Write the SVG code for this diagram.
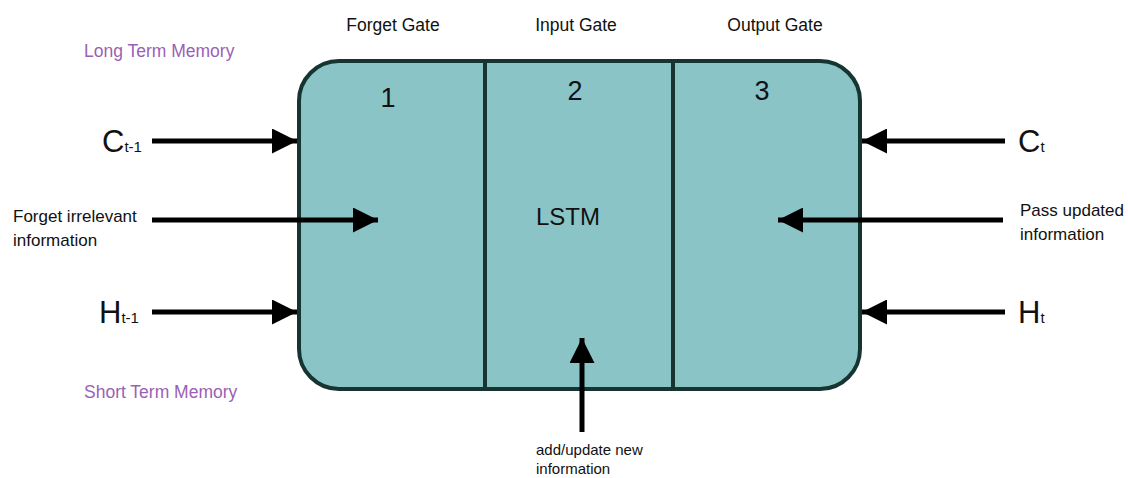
<svg xmlns="http://www.w3.org/2000/svg" width="1128" height="478" viewBox="0 0 1128 478">
<defs>
<style>
text{font-family:"Liberation Sans",Arial,sans-serif;fill:#111}
.gate{font-size:17.5px;text-anchor:middle}
.num{font-size:27px;text-anchor:middle}
.mem{font-size:17.5px;fill:#9b5fb5}
.lbl{font-size:17px}
.big{font-size:31px}
.sub{font-size:15px}
.small{font-size:15px}
.arr{stroke:#000;stroke-width:5;fill:none}
.div{stroke:#163530;stroke-width:4}
</style>
<marker id="ah" viewBox="0 0 10 10" refX="10" refY="5" markerWidth="5" markerHeight="5" markerUnits="strokeWidth" orient="auto">
<path d="M0,0 L10,5 L0,10 z" fill="#000"/>
</marker>
</defs>
<rect width="1128" height="478" fill="#fff"/>
<g id="lstm">
<rect x="299" y="61" width="561" height="328" rx="40" ry="40" fill="#8bc4c6" stroke="#163530" stroke-width="4"/>
<line class="div" x1="485" y1="61" x2="485" y2="389"/>
<line class="div" x1="673" y1="61" x2="673" y2="389"/>
<text class="num" x="388" y="107">1</text>
<text class="num" x="575" y="100">2</text>
<text class="num" x="762" y="100">3</text>
<text x="568" y="225" style="font-size:24px" text-anchor="middle">LSTM</text>
</g>
<g id="gates">
<text class="gate" x="393" y="31">Forget Gate</text>
<text class="gate" x="576" y="31">Input Gate</text>
<text class="gate" x="775" y="31">Output Gate</text>
</g>
<g id="memory-labels">
<text class="mem" x="84" y="57">Long Term Memory</text>
<text class="mem" x="84" y="398">Short Term Memory</text>
</g>
<g id="inputs">
<text x="102" y="152"><tspan class="big">C</tspan><tspan class="sub">t-1</tspan></text>
<text class="lbl" x="13" y="222">Forget irrelevant</text>
<text class="lbl" x="13" y="246">information</text>
<text x="99" y="323"><tspan class="big">H</tspan><tspan class="sub">t-1</tspan></text>
</g>
<g id="outputs">
<text x="1018" y="152"><tspan class="big">C</tspan><tspan class="sub">t</tspan></text>
<text class="lbl" x="1020" y="216">Pass updated</text>
<text class="lbl" x="1020" y="240">information</text>
<text x="1018" y="323"><tspan class="big">H</tspan><tspan class="sub">t</tspan></text>
<text class="small" x="536" y="455">add/update new</text>
<text class="small" x="536" y="474">information</text>
</g>
<g id="connectors">
<line class="arr" x1="152" y1="141" x2="297" y2="141" marker-end="url(#ah)"/>
<line class="arr" x1="152" y1="220" x2="378" y2="220" marker-end="url(#ah)"/>
<line class="arr" x1="152" y1="312" x2="297" y2="312" marker-end="url(#ah)"/>
<line class="arr" x1="1005" y1="141" x2="862" y2="141" marker-end="url(#ah)"/>
<line class="arr" x1="1003" y1="220" x2="778" y2="220" marker-end="url(#ah)"/>
<line class="arr" x1="1005" y1="312" x2="862" y2="312" marker-end="url(#ah)"/>
<line class="arr" x1="582" y1="432" x2="582" y2="338" marker-end="url(#ah)"/>
</g>
</svg>
